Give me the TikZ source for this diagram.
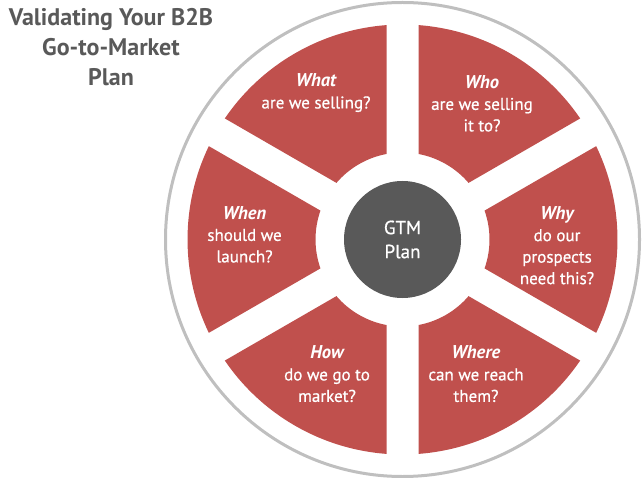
\documentclass[tikz,border=0pt]{standalone}
\usepackage{fontspec}
\setmainfont{PT Sans}
\newfontface\semib{PT Sans}[FakeBold=0.7]
\definecolor{wedge}{HTML}{C0504D}
\definecolor{hubc}{HTML}{595959}
\definecolor{ringc}{HTML}{BFBFBF}
\definecolor{titlec}{HTML}{595959}
\newcommand{\hd}[1]{{\normalfont\fontsize{18.5}{21.5}\selectfont\bfseries\itshape #1}}
\tikzset{
  wedgetext/.style={text=white, align=center, inner sep=0pt, font=\semib\fontsize{17}{21.5}\selectfont},
  hubnode/.style={circle, fill=hubc, minimum size=117pt, inner sep=0pt, text=white, align=center, font=\semib\fontsize{19}{24}\selectfont},
  titlenode/.style={text=titlec, align=center, inner sep=0pt, font=\bfseries\fontsize{24}{30}\selectfont}
}
\begin{document}
\begin{tikzpicture}[x=1pt,y=1pt]
\useasboundingbox (0,0) rectangle (642,-478);
\coordinate (O) at (402.5,-239.5);
\draw[ringc, line width=3pt] (O) circle (237pt);
\pgfmathsetmacro\dout{asin(16/215)}
\pgfmathsetmacro\din{asin(16/87)}
\foreach \c in {120,60,0,-60,-120,180}{
  \pgfmathsetmacro\oa{\c-30+\dout}
  \pgfmathsetmacro\ob{\c+30-\dout}
  \pgfmathsetmacro\ia{\c+30-\din}
  \pgfmathsetmacro\ib{\c-30+\din}
  \fill[wedge,shift={(O)}] (\oa:215) arc[start angle=\oa,end angle=\ob,radius=215]
     -- (\ia:87) arc[start angle=\ia,end angle=\ib,radius=87] -- cycle;
}
\node[hubnode] (hub) at (O) {GTM\\Plan};
\node[titlenode] (title) at (111,-47) {Validating Your B2B\\Go-to-Market\\Plan};
\node[wedgetext] (what) at (316,-93) {\hd{What}\\are we selling?};
\node[wedgetext] (who) at (482,-103.5) {\hd{Who}\\are we selling\\it to?};
\node[wedgetext] (when) at (244.5,-234.5) {\hd{When}\\should we\\launch?};
\node[wedgetext] (why) at (557,-245.5) {\hd{Why}\\do our\\prospects\\need this?};
\node[wedgetext] (how) at (327,-374) {\hd{How}\\do we go to\\market?};
\node[wedgetext] (where) at (476,-374) {\hd{Where}\\can we reach\\them?};
\end{tikzpicture}
\end{document}
